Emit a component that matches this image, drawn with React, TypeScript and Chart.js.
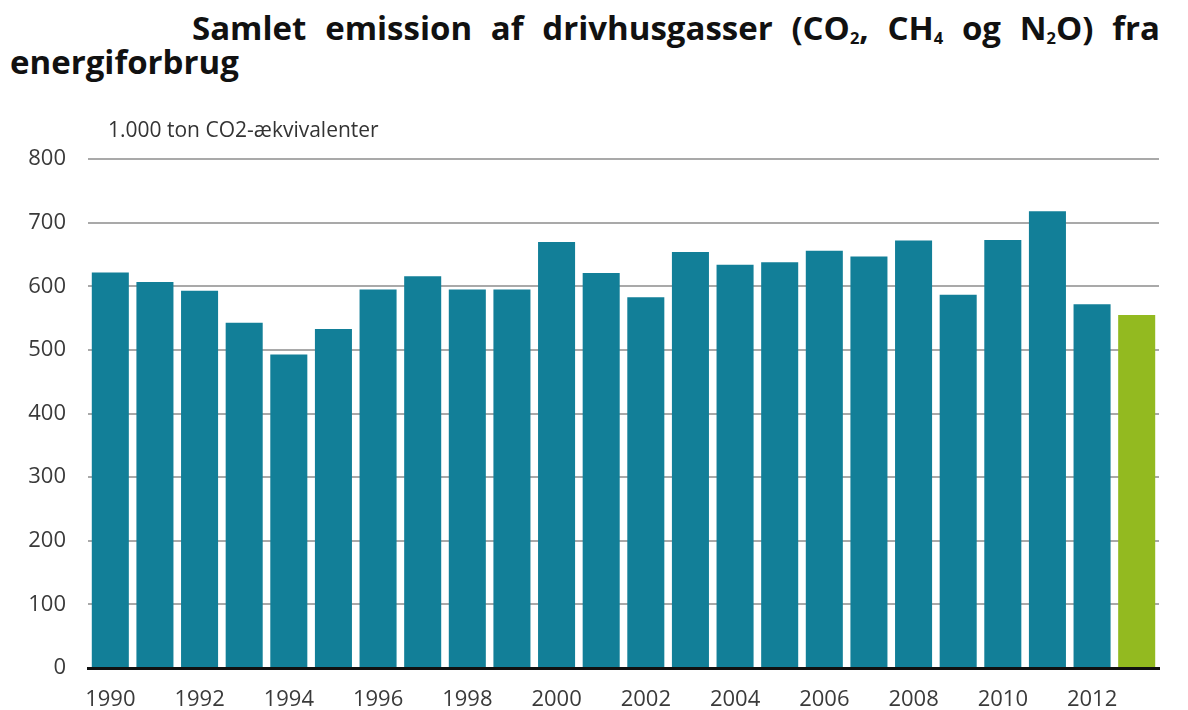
import React, { useEffect, useRef } from "react";
import { Chart, registerables } from "chart.js";

Chart.register(...registerables);

const years: string[] = [
  "1990", "1991", "1992", "1993", "1994", "1995", "1996", "1997",
  "1998", "1999", "2000", "2001", "2002", "2003", "2004", "2005",
  "2006", "2007", "2008", "2009", "2010", "2011", "2012", "2013",
];

const emissions: number[] = [
  622, 607, 593, 543, 493, 533, 595, 616,
  595, 595, 670, 621, 583, 654, 634, 638,
  656, 647, 672, 587, 673, 718, 572, 555,
];

const yTicks: number[] = [0, 100, 200, 300, 400, 500, 600, 700, 800];

const unitLabel = "1.000 ton CO2-ækvivalenter";

const TEAL = "#127F98";
const GREEN = "#93BA20";
const FONT = '"Open Sans", "DejaVu Sans", sans-serif';

export default function App() {
  const canvasRef = useRef<HTMLCanvasElement | null>(null);

  useEffect(() => {
    if (!canvasRef.current) return;
    const chart = new Chart(canvasRef.current, {
      type: "bar",
      data: {
        labels: years,
        datasets: [
          {
            data: emissions,
            backgroundColor: emissions.map((_, i) => (i === emissions.length - 1 ? GREEN : TEAL)),
            borderWidth: 0,
            barPercentage: 0.83,
            categoryPercentage: 1,
          },
        ],
      },
      options: {
        animation: false,
        responsive: false,
        maintainAspectRatio: false,
        layout: { padding: { top: 18, right: 29, bottom: 0, left: 0 } },
        plugins: {
          legend: { display: false },
          tooltip: { enabled: false },
          title: { display: false },
        },
        scales: {
          x: {
            z: 1,
            grid: { display: false, drawTicks: false },
            border: { display: true, color: "#111111", width: 3 },
            afterFit: (scale: any) => {
              scale.height = 42;
            },
            ticks: {
              autoSkip: false,
              maxRotation: 0,
              minRotation: 0,
              padding: 21,
              color: "#3a3a3a",
              font: { family: FONT, size: 22, lineHeight: 1 },
              callback: (_v: any, i: number) => (i % 2 === 0 ? years[i] : ""),
            },
          },
          y: {
            min: 0,
            max: 800,
            afterBuildTicks: (scale: any) => {
              scale.ticks = yTicks.map((v) => ({ value: v }));
            },
            afterFit: (scale: any) => {
              scale.width = 88;
            },
            border: { display: false },
            grid: {
              drawTicks: false,
              color: (ctx: any) => (ctx.tick && ctx.tick.value === 0 ? "rgba(0,0,0,0)" : "#a9a9a9"),
              lineWidth: 2,
            },
            ticks: {
              padding: 22,
              color: "#3a3a3a",
              font: { family: FONT, size: 22 },
            },
          },
        },
      },
    });
    return () => chart.destroy();
  }, []);

  const sub = (t: string) => (
    <sub style={{ fontSize: "0.5em", verticalAlign: "-0.25em", lineHeight: 0 }}>{t}</sub>
  );

  return (
    <div
      style={{
        position: "fixed",
        left: 0,
        top: 0,
        width: 1188,
        height: 710,
        background: "#ffffff",
        fontFamily: FONT,
        overflow: "hidden",
      }}
    >
      <div
        style={{
          position: "absolute",
          left: 192,
          top: 8,
          width: 968,
          display: "flex",
          justifyContent: "space-between",
          fontWeight: 700,
          fontSize: 33,
          lineHeight: "40px",
          color: "#111111",
          whiteSpace: "nowrap",
        }}
      >
        <span>Samlet</span>
        <span>emission</span>
        <span>af</span>
        <span>drivhusgasser</span>
        <span>(CO{sub("2")},</span>
        <span>CH{sub("4")}</span>
        <span>og</span>
        <span>N{sub("2")}O)</span>
        <span>fra</span>
      </div>
      <div
        style={{
          position: "absolute",
          left: 10,
          top: 42,
          fontWeight: 700,
          fontSize: 33,
          lineHeight: "40px",
          color: "#111111",
          whiteSpace: "nowrap",
        }}
      >
        energiforbrug
      </div>
      <canvas
        ref={canvasRef}
        width={1188}
        height={586}
        style={{ position: "absolute", left: 0, top: 124, width: 1188, height: 586, display: "block" }}
      />
      <div
        style={{
          position: "absolute",
          left: 108,
          top: 115,
          fontSize: 21,
          lineHeight: "28px",
          color: "#333333",
          whiteSpace: "nowrap",
        }}
      >
        {unitLabel}
      </div>
    </div>
  );
}
